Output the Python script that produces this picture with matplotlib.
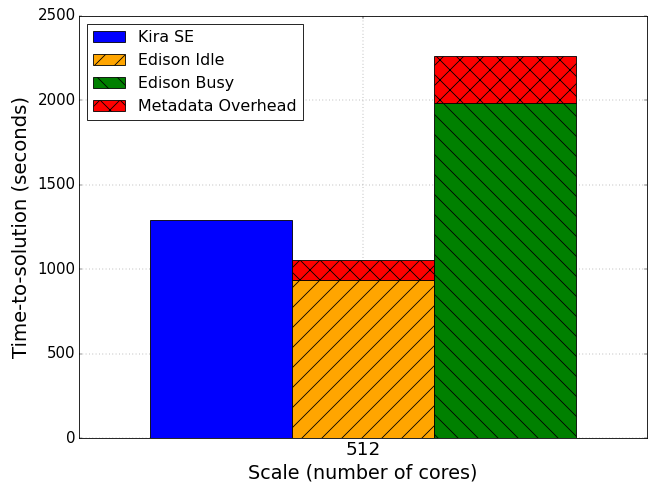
import matplotlib
matplotlib.use("Agg")
import matplotlib.pyplot as plt

plt.style.use("classic")

scale_labels = ["512"]
kira_se = [1290]
edison_idle = [935]
edison_busy = [1985]
meta_idle = [117]
meta_busy = [278]

series_names = ["Kira SE", "Edison Idle", "Edison Busy", "Metadata Overhead"]

DPI = 60
fig = plt.figure(figsize=(651 / DPI, 485 / DPI), dpi=DPI, facecolor="white")
ax = fig.add_axes([79 / 651, 1 - 438 / 485, (647 - 79) / 651, (438 - 16) / 485])

w = 0.25
x0 = 0
b1 = ax.bar(x0 - w, kira_se[0], w, align="center", color="blue", edgecolor="black")
b2 = ax.bar(x0, edison_idle[0], w, align="center", color="orange", edgecolor="black", hatch="/")
b3 = ax.bar(x0 + w, edison_busy[0], w, align="center", color="green", edgecolor="black", hatch="\\")
b4 = ax.bar(x0, meta_idle[0], w, bottom=edison_idle[0], align="center", color="red",
            edgecolor="black", hatch="x")
ax.bar(x0 + w, meta_busy[0], w, bottom=edison_busy[0], align="center", color="red",
       edgecolor="black", hatch="x")

ax.set_xlim(-0.5, 0.5)
ax.set_ylim(0, 2500)
ax.set_xticks([x0])
ax.set_xticklabels(scale_labels)
ax.set_yticks([0, 500, 1000, 1500, 2000, 2500])
ax.tick_params(axis="y", labelsize=18)
ax.tick_params(axis="x", labelsize=22)
ax.grid(True, linestyle=":", color="0.3")
ax.set_axisbelow(True)
ax.set_xlabel("Scale (number of cores)", fontsize=23)
ax.set_ylabel("Time-to-solution (seconds)", fontsize=23.5, labelpad=8.5)
ax.legend([b1, b2, b3, b4], series_names, loc="upper left", fontsize=19)

fig.savefig("out.png", dpi=DPI, facecolor="white")
